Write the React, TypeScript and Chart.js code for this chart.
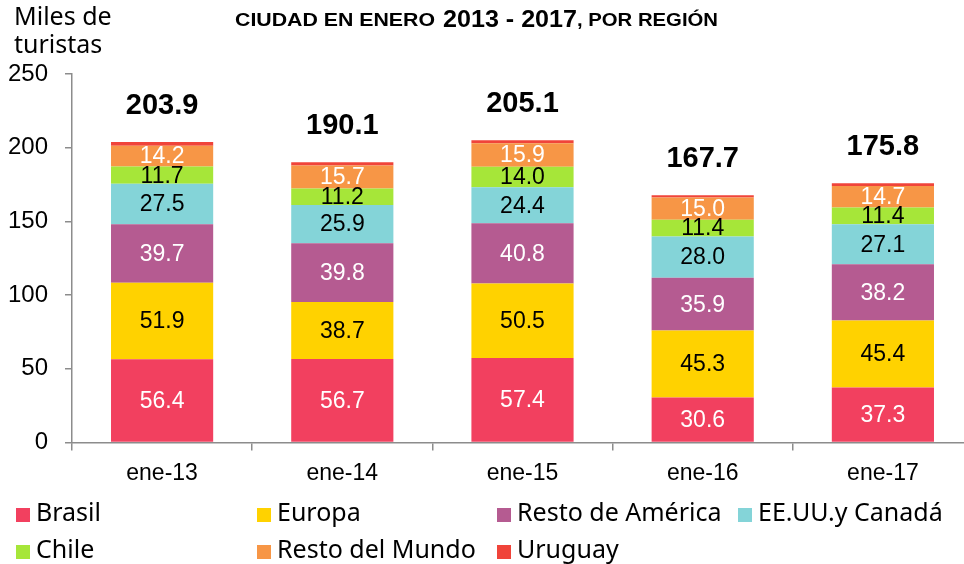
import React, { useEffect, useRef } from "react";
import { Chart, registerables } from "chart.js";

Chart.register(...registerables);

const categories = ["ene-13", "ene-14", "ene-15", "ene-16", "ene-17"];
const brasil = [56.4, 56.7, 57.4, 30.6, 37.3];
const europa = [51.9, 38.7, 50.5, 45.3, 45.4];
const restoAmerica = [39.7, 39.8, 40.8, 35.9, 38.2];
const eeuuCanada = [27.5, 25.9, 24.4, 28.0, 27.1];
const chile = [11.7, 11.2, 14.0, 11.4, 11.4];
const restoMundo = [14.2, 15.7, 15.9, 15.0, 14.7];
const uruguay = [2.5, 2.1, 2.1, 1.5, 1.7];
const totals = [203.9, 190.1, 205.1, 167.7, 175.8];
const seriesNames = ["Brasil", "Europa", "Resto de América", "EE.UU.y Canadá", "Chile", "Resto del Mundo", "Uruguay"];
const seriesColors = ["#F2405F", "#FFD200", "#B55B91", "#84D4D8", "#A6E639", "#F79646", "#F0443A"];
const labelColors = ["#ffffff", "#000000", "#ffffff", "#000000", "#000000", "#ffffff", null];
const seriesValues = [brasil, europa, restoAmerica, eeuuCanada, chile, restoMundo, uruguay];
const yMin = 0;
const yMax = 250;
const yStep = 50;

const NUM_FONT = "'Liberation Sans', Arial, sans-serif";
const ROUND_FONT = "'Noto Sans', sans-serif";

const labelsPlugin = {
  id: "segLabels",
  afterDatasetsDraw(chart: any) {
    const ctx = chart.ctx;
    ctx.save();
    ctx.textAlign = "center";
    ctx.textBaseline = "middle";
    ctx.font = `23px ${NUM_FONT}`;
    chart.data.datasets.forEach((ds: any, di: number) => {
      const col = labelColors[di];
      if (!col) return;
      const meta = chart.getDatasetMeta(di);
      meta.data.forEach((el: any, i: number) => {
        const v = ds.data[i];
        ctx.fillStyle = col;
        ctx.fillText(v.toFixed(1), el.x, (el.y + el.base) / 2 + 1);
      });
    });
    const topMeta = chart.getDatasetMeta(chart.data.datasets.length - 1);
    ctx.font = `bold 29px ${NUM_FONT}`;
    ctx.fillStyle = "#000";
    topMeta.data.forEach((el: any, i: number) => {
      ctx.fillText(totals[i].toFixed(1), el.x, el.y - 36);
    });
    ctx.restore();
  },
};

function drawFit(ctx: any, text: string, x: number, y: number, target: number) {
  const w = ctx.measureText(text).width;
  ctx.save();
  ctx.translate(x, y);
  ctx.scale(target / w, 1);
  ctx.fillText(text, 0, 0);
  ctx.restore();
}

const decorPlugin = {
  id: "decor",
  afterDraw(chart: any) {
    const ctx = chart.ctx;
    ctx.save();
    ctx.fillStyle = "#000";
    ctx.textBaseline = "alphabetic";
    ctx.textAlign = "left";
    // title
    ctx.font = `bold 18px ${NUM_FONT}`;
    drawFit(ctx, "CIUDAD EN ENERO", 235, 26, 200);
    ctx.font = `bold 24px ${NUM_FONT}`;
    drawFit(ctx, "2013 - 2017", 443, 26.5, 134);
    ctx.font = `bold 18px ${NUM_FONT}`;
    drawFit(ctx, ", POR REGIÓN", 577, 26, 141);
    // axis title
    ctx.font = `25px ${ROUND_FONT}`;
    ctx.fillText("Miles de", 14, 25);
    ctx.fillText("turistas", 14, 53);
    // legend
    const cols = [16, 257, 497, 738];
    const rows = [508, 545];
    ctx.textBaseline = "middle";
    ctx.font = `25px ${ROUND_FONT}`;
    seriesNames.forEach((name, i) => {
      const x = cols[i % 4];
      const y = rows[Math.floor(i / 4)];
      ctx.fillStyle = seriesColors[i];
      ctx.fillRect(x, y, 14, 14);
      ctx.fillStyle = "#000";
      ctx.fillText(name, x + 20, y + 6);
    });
    ctx.restore();
  },
};

export default function App() {
  const ref = useRef<HTMLCanvasElement>(null);
  useEffect(() => {
    if (!ref.current) return;
    const chart = new Chart(ref.current, {
      type: "bar",
      data: {
        labels: categories,
        datasets: seriesNames.map((name, i) => ({
          label: name,
          data: seriesValues[i],
          backgroundColor: seriesColors[i],
          borderWidth: 0,
          categoryPercentage: 1,
          barPercentage: 0.567,
        })),
      },
      options: {
        responsive: false,
        animation: false,
        devicePixelRatio: 1,
        layout: { padding: { left: 0, right: 17, top: 74, bottom: 0 } },
        plugins: {
          legend: { display: false },
          title: { display: false },
          tooltip: { enabled: false },
        },
        scales: {
          x: {
            stacked: true,
            grid: { offset: true, drawOnChartArea: false, tickLength: 8, color: "#8c8c8c", lineWidth: 1.5 },
            border: { color: "#8c8c8c", width: 1.5 },
            ticks: { color: "#000", font: { family: NUM_FONT, size: 23 }, padding: 9 },
            afterFit(scale: any) {
              scale.height = 121.5;
            },
          },
          y: {
            stacked: true,
            min: yMin,
            max: yMax,
            ticks: { stepSize: yStep, color: "#000", font: { family: NUM_FONT, size: 24 }, padding: 17 },
            grid: { drawOnChartArea: false, tickLength: 7, color: "#8c8c8c", lineWidth: 1.5 },
            border: { color: "#8c8c8c", width: 1.5 },
            afterFit(scale: any) {
              scale.width = 72;
            },
          },
        },
      },
      plugins: [labelsPlugin, decorPlugin],
    } as any);
    return () => chart.destroy();
  }, []);
  return (
    <div style={{ position: "fixed", left: 0, top: 0, width: 964, height: 564, overflow: "hidden", background: "#fff" }}>
      <canvas ref={ref} width={990} height={564} style={{ display: "block", width: 990, height: 564 }} />
    </div>
  );
}
